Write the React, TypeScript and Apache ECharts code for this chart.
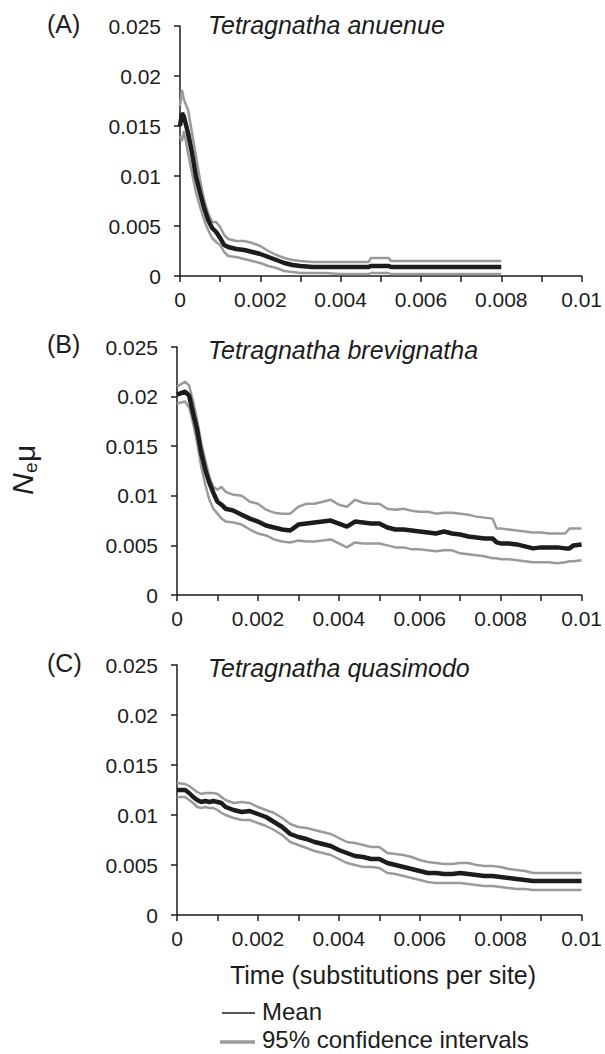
import React, { useEffect, useRef } from 'react';
import * as echarts from 'echarts';

const xTickLabels = ['0', '', '0.002', '', '0.004', '', '0.006', '', '0.008', '', '0.01'];
const yTickLabels = ['0', '0.005', '0.01', '0.015', '0.02', '0.025'];
const panelLetters = ['(A)', '(B)', '(C)'];
const speciesNames = ['Tetragnatha anuenue', 'Tetragnatha brevignatha', 'Tetragnatha quasimodo'];
const xAxisTitle = 'Time (substitutions per site)';
const legendLabels = ['Mean', '95% confidence intervals'];

// Panel A: [time, value]
const meanA = [[0, 0.015], [0.00005, 0.0163], [0.0001, 0.0159], [0.0002, 0.0143], [0.0003, 0.0123], [0.0004, 0.0099], [0.0005, 0.0083], [0.0006, 0.0068], [0.0007, 0.0056], [0.0008, 0.0048], [0.0009, 0.0044], [0.001, 0.0038], [0.0011, 0.0031], [0.0012, 0.0029], [0.0014, 0.0027], [0.0016, 0.0026], [0.0018, 0.0024], [0.002, 0.0022], [0.0022, 0.0019], [0.0024, 0.0016], [0.0026, 0.0013], [0.0028, 0.0011], [0.003, 0.001], [0.0033, 0.0009], [0.0036, 0.0009], [0.004, 0.0009], [0.0047, 0.0009], [0.00475, 0.001], [0.0052, 0.001], [0.00525, 0.0009], [0.008, 0.0009]];
const upperA = [[0, 0.017], [0.00005, 0.0186], [0.0001, 0.0176], [0.0002, 0.0166], [0.0003, 0.0143], [0.0004, 0.0119], [0.0005, 0.0096], [0.0006, 0.0076], [0.0007, 0.0063], [0.0008, 0.0054], [0.0009, 0.0054], [0.001, 0.0049], [0.0011, 0.0041], [0.0012, 0.0037], [0.0014, 0.0035], [0.0016, 0.0035], [0.0018, 0.0033], [0.002, 0.003], [0.0022, 0.0025], [0.0024, 0.0021], [0.0026, 0.0018], [0.0028, 0.0016], [0.003, 0.0015], [0.0033, 0.0014], [0.0036, 0.0014], [0.004, 0.0014], [0.0047, 0.0014], [0.00475, 0.0018], [0.0052, 0.0018], [0.00525, 0.0015], [0.008, 0.0015]];
const lowerA = [[0, 0.014], [0.00005, 0.0135], [0.0001, 0.0145], [0.0002, 0.0123], [0.0003, 0.0103], [0.0004, 0.0083], [0.0005, 0.0069], [0.0006, 0.0056], [0.0007, 0.0046], [0.0008, 0.0038], [0.0009, 0.0034], [0.001, 0.0031], [0.0011, 0.0024], [0.0012, 0.002], [0.0014, 0.0019], [0.0016, 0.0017], [0.0018, 0.0015], [0.002, 0.0013], [0.0022, 0.001], [0.0024, 0.0008], [0.0026, 0.0005], [0.0028, 0.0004], [0.003, 0.0003], [0.0033, 0.0003], [0.0036, 0.0003], [0.004, 0.0002], [0.0047, 0.0002], [0.00475, 0.0003], [0.0052, 0.0003], [0.00525, 0.0002], [0.008, 0.0002]];

// Panel B
const meanB = [[0, 0.0202], [0.0002, 0.0205], [0.0003, 0.0201], [0.0004, 0.0183], [0.0005, 0.0166], [0.0006, 0.0143], [0.0007, 0.0126], [0.0008, 0.0113], [0.0009, 0.0103], [0.001, 0.0094], [0.0011, 0.0091], [0.0012, 0.0087], [0.0014, 0.0085], [0.0016, 0.0081], [0.0018, 0.0077], [0.002, 0.0074], [0.0022, 0.007], [0.0024, 0.0068], [0.0026, 0.0066], [0.0028, 0.0065], [0.003, 0.0071], [0.0032, 0.0072], [0.0034, 0.0073], [0.0036, 0.0074], [0.0038, 0.0075], [0.004, 0.0072], [0.0042, 0.0069], [0.0044, 0.0074], [0.0046, 0.0073], [0.0048, 0.0072], [0.005, 0.0072], [0.0052, 0.0068], [0.0054, 0.0066], [0.0056, 0.0066], [0.0058, 0.0065], [0.006, 0.0064], [0.0062, 0.0063], [0.0064, 0.0062], [0.0066, 0.0064], [0.0068, 0.0062], [0.007, 0.0061], [0.0072, 0.0059], [0.0074, 0.0058], [0.0076, 0.0057], [0.0078, 0.0057], [0.0079, 0.0053], [0.008, 0.0052], [0.0082, 0.0052], [0.0084, 0.0051], [0.0086, 0.0049], [0.0088, 0.0047], [0.009, 0.0048], [0.0092, 0.0048], [0.0094, 0.0048], [0.0096, 0.0047], [0.0097, 0.0047], [0.0098, 0.005], [0.01, 0.0051]];
const upperB = [[0, 0.021], [0.0002, 0.0215], [0.0003, 0.0211], [0.0004, 0.0195], [0.0005, 0.0176], [0.0006, 0.0153], [0.0007, 0.0136], [0.0008, 0.0119], [0.0009, 0.0109], [0.001, 0.0106], [0.0011, 0.0109], [0.0012, 0.0104], [0.0014, 0.0101], [0.0016, 0.01], [0.0018, 0.0094], [0.002, 0.0092], [0.0022, 0.0086], [0.0024, 0.0083], [0.0026, 0.0082], [0.0028, 0.0082], [0.003, 0.0089], [0.0032, 0.0092], [0.0034, 0.0092], [0.0036, 0.0094], [0.0038, 0.0096], [0.004, 0.0091], [0.0042, 0.0089], [0.0044, 0.0096], [0.0046, 0.0093], [0.0048, 0.0092], [0.005, 0.0092], [0.0052, 0.0087], [0.0054, 0.0086], [0.0056, 0.0087], [0.0058, 0.0085], [0.006, 0.0084], [0.0062, 0.0084], [0.0064, 0.0082], [0.0066, 0.0083], [0.0068, 0.0083], [0.007, 0.0082], [0.0072, 0.0081], [0.0074, 0.0079], [0.0076, 0.0078], [0.0078, 0.0077], [0.0079, 0.0067], [0.008, 0.0067], [0.0082, 0.0066], [0.0084, 0.0065], [0.0086, 0.0064], [0.0088, 0.0063], [0.009, 0.0063], [0.0092, 0.0062], [0.0094, 0.0062], [0.0096, 0.0062], [0.0097, 0.0067], [0.0098, 0.0067], [0.01, 0.0067]];
const lowerB = [[0, 0.0193], [0.0002, 0.0195], [0.0003, 0.0189], [0.0004, 0.0173], [0.0005, 0.0153], [0.0006, 0.0129], [0.0007, 0.0111], [0.0008, 0.0096], [0.0009, 0.0087], [0.001, 0.0082], [0.0011, 0.0077], [0.0012, 0.0074], [0.0014, 0.0073], [0.0016, 0.0071], [0.0018, 0.0066], [0.002, 0.0062], [0.0022, 0.006], [0.0024, 0.0056], [0.0026, 0.0054], [0.0028, 0.0053], [0.003, 0.0055], [0.0032, 0.0054], [0.0034, 0.0054], [0.0036, 0.0055], [0.0038, 0.0056], [0.004, 0.0052], [0.0042, 0.0048], [0.0044, 0.0053], [0.0046, 0.0052], [0.0048, 0.0052], [0.005, 0.0052], [0.0052, 0.005], [0.0054, 0.0048], [0.0056, 0.0048], [0.0058, 0.0046], [0.006, 0.0046], [0.0062, 0.0045], [0.0064, 0.0044], [0.0066, 0.0045], [0.0068, 0.0045], [0.007, 0.0042], [0.0072, 0.0041], [0.0074, 0.004], [0.0076, 0.0039], [0.0078, 0.0037], [0.0079, 0.0037], [0.008, 0.0036], [0.0082, 0.0036], [0.0084, 0.0035], [0.0086, 0.0034], [0.0088, 0.0033], [0.009, 0.0033], [0.0092, 0.0033], [0.0094, 0.0032], [0.0096, 0.0033], [0.0097, 0.0034], [0.0098, 0.0034], [0.01, 0.0035]];

// Panel C
const meanC = [[0, 0.0125], [0.0002, 0.0125], [0.0003, 0.0122], [0.0004, 0.0118], [0.0005, 0.0115], [0.0006, 0.0113], [0.0007, 0.0114], [0.0008, 0.0113], [0.0009, 0.0114], [0.001, 0.0113], [0.0011, 0.0112], [0.0012, 0.0108], [0.0014, 0.0105], [0.0016, 0.0103], [0.0018, 0.0104], [0.002, 0.0101], [0.0022, 0.0098], [0.0024, 0.0093], [0.0026, 0.0088], [0.0028, 0.0081], [0.003, 0.0078], [0.0032, 0.0076], [0.0034, 0.0073], [0.0036, 0.0071], [0.0038, 0.0069], [0.004, 0.0065], [0.0042, 0.0062], [0.0044, 0.0059], [0.0046, 0.0058], [0.0048, 0.0056], [0.005, 0.0056], [0.0052, 0.0052], [0.0054, 0.005], [0.0056, 0.0048], [0.0058, 0.0046], [0.006, 0.0044], [0.0062, 0.0042], [0.0064, 0.0042], [0.0066, 0.0041], [0.0068, 0.0041], [0.007, 0.0042], [0.0072, 0.0041], [0.0074, 0.004], [0.0076, 0.0039], [0.0078, 0.0039], [0.008, 0.0038], [0.0082, 0.0037], [0.0084, 0.0036], [0.0086, 0.0035], [0.0088, 0.0034], [0.009, 0.0034], [0.0092, 0.0034], [0.0094, 0.0034], [0.0096, 0.0034], [0.0098, 0.0034], [0.01, 0.0034]];
const upperC = [[0, 0.0132], [0.0002, 0.0131], [0.0003, 0.0129], [0.0004, 0.0126], [0.0005, 0.0123], [0.0006, 0.0121], [0.0007, 0.0122], [0.0008, 0.0122], [0.0009, 0.0122], [0.001, 0.0121], [0.0011, 0.0118], [0.0012, 0.0115], [0.0014, 0.0112], [0.0016, 0.0113], [0.0018, 0.0112], [0.002, 0.0108], [0.0022, 0.0105], [0.0024, 0.0102], [0.0026, 0.0097], [0.0028, 0.0091], [0.003, 0.0088], [0.0032, 0.0087], [0.0034, 0.0085], [0.0036, 0.0083], [0.0038, 0.0081], [0.004, 0.0077], [0.0042, 0.0073], [0.0044, 0.0072], [0.0046, 0.007], [0.0048, 0.0068], [0.005, 0.0068], [0.0052, 0.0062], [0.0054, 0.0061], [0.0056, 0.006], [0.0058, 0.0058], [0.006, 0.0055], [0.0062, 0.0053], [0.0064, 0.0052], [0.0066, 0.0051], [0.0068, 0.0051], [0.007, 0.0052], [0.0072, 0.0052], [0.0074, 0.005], [0.0076, 0.0049], [0.0078, 0.0049], [0.008, 0.0048], [0.0082, 0.0046], [0.0084, 0.0045], [0.0086, 0.0044], [0.0088, 0.0042], [0.009, 0.0042], [0.0092, 0.0042], [0.0094, 0.0042], [0.0096, 0.0042], [0.0098, 0.0042], [0.01, 0.0042]];
const lowerC = [[0, 0.0118], [0.0002, 0.0118], [0.0003, 0.0115], [0.0004, 0.0112], [0.0005, 0.0108], [0.0006, 0.0107], [0.0007, 0.0108], [0.0008, 0.0107], [0.0009, 0.0107], [0.001, 0.0105], [0.0011, 0.0102], [0.0012, 0.01], [0.0014, 0.0097], [0.0016, 0.0095], [0.0018, 0.0095], [0.002, 0.0092], [0.0022, 0.0089], [0.0024, 0.0085], [0.0026, 0.008], [0.0028, 0.0073], [0.003, 0.007], [0.0032, 0.0067], [0.0034, 0.0064], [0.0036, 0.0062], [0.0038, 0.006], [0.004, 0.0056], [0.0042, 0.0052], [0.0044, 0.005], [0.0046, 0.0048], [0.0048, 0.0048], [0.005, 0.0047], [0.0052, 0.0042], [0.0054, 0.0041], [0.0056, 0.0039], [0.0058, 0.0037], [0.006, 0.0035], [0.0062, 0.0033], [0.0064, 0.0032], [0.0066, 0.0032], [0.0068, 0.0032], [0.007, 0.0032], [0.0072, 0.0031], [0.0074, 0.003], [0.0076, 0.0029], [0.0078, 0.0029], [0.008, 0.0028], [0.0082, 0.0027], [0.0084, 0.0026], [0.0086, 0.0026], [0.0088, 0.0025], [0.009, 0.0025], [0.0092, 0.0025], [0.0094, 0.0025], [0.0096, 0.0025], [0.0098, 0.0025], [0.01, 0.0025]];

const panels = [
  { mean: meanA, upper: upperA, lower: lowerA },
  { mean: meanB, upper: upperB, lower: lowerB },
  { mean: meanC, upper: upperC, lower: lowerC },
];

const FONT = '"Liberation Sans", Arial, Helvetica, sans-serif';
const INK = '#1c1c1c';
const GRAY = '#9a9a9a';

const gridBoxes = [
  { left: 180, top: 26, width: 407, height: 250 },
  { left: 177, top: 347, width: 405, height: 248 },
  { left: 177, top: 665, width: 405, height: 250 },
];
const letterY = [24, 344, 663];
const titleY = [25, 350, 668];

export default function App() {
  const ref = useRef<HTMLDivElement>(null);
  useEffect(() => {
    const chart = echarts.init(ref.current!, null, { renderer: 'svg' });
    const axisLine = { show: true, lineStyle: { color: INK, width: 1.5 } };
    const axisTick = { show: true, inside: false, length: 6, lineStyle: { color: INK, width: 1.5 } };
    const option: any = {
      animation: false,
      backgroundColor: '#ffffff',
      grid: gridBoxes.map((g) => ({ ...g, containLabel: false })),
      xAxis: gridBoxes.map((_, i) => ({
        type: 'value',
        gridIndex: i,
        min: 0,
        max: 0.01,
        interval: 0.001,
        axisLine,
        axisTick,
        splitLine: { show: false },
        axisLabel: {
          show: true,
          margin: 13,
          color: INK,
          fontSize: 21,
          fontFamily: FONT,
          showMinLabel: true,
          showMaxLabel: true,
          formatter: (v: number) => xTickLabels[Math.round(v / 0.001)] ?? '',
        },
      })),
      yAxis: gridBoxes.map((_, i) => ({
        type: 'value',
        gridIndex: i,
        min: 0,
        max: 0.025,
        interval: 0.005,
        axisLine,
        axisTick,
        splitLine: { show: false },
        axisLabel: {
          show: true,
          margin: 19,
          color: INK,
          fontSize: 21,
          fontFamily: FONT,
          formatter: (v: number) => yTickLabels[Math.round(v / 0.005)] ?? '',
        },
      })),
      series: panels.flatMap((p, i) => [
        { type: 'line', xAxisIndex: i, yAxisIndex: i, data: p.lower, symbol: 'none', z: 2, lineStyle: { color: GRAY, width: 2.5 } },
        { type: 'line', xAxisIndex: i, yAxisIndex: i, data: p.upper, symbol: 'none', z: 2, lineStyle: { color: GRAY, width: 2.5 } },
        { type: 'line', xAxisIndex: i, yAxisIndex: i, data: p.mean, symbol: 'none', z: 3, lineStyle: { color: INK, width: 4.5 } },
      ]),
      graphic: [
        ...panelLetters.map((t, i) => ({
          type: 'text', x: 47, y: letterY[i],
          style: { text: t, fontSize: 25, fontFamily: FONT, fill: INK, align: 'left', verticalAlign: 'middle' },
        })),
        ...speciesNames.map((t, i) => ({
          type: 'text', x: 208, y: titleY[i],
          style: { text: t, fontSize: 25, fontStyle: 'italic', fontFamily: FONT, fill: INK, align: 'left', verticalAlign: 'middle' },
        })),
        {
          type: 'group', x: 22, y: 469, rotation: Math.PI / 2,
          children: [
            { type: 'text', x: -26, y: 0, style: { text: 'N', fontSize: 30, fontStyle: 'italic', fontFamily: FONT, fill: INK, align: 'left', verticalAlign: 'middle' } },
            { type: 'text', x: -4, y: 8, style: { text: 'e', fontSize: 19, fontFamily: FONT, fill: INK, align: 'left', verticalAlign: 'middle' } },
            { type: 'text', x: 7, y: 2, style: { text: 'μ', fontSize: 30, fontFamily: FONT, fill: INK, align: 'left', verticalAlign: 'middle' } },
          ],
        },
        {
          type: 'text', x: 383, y: 975,
          style: { text: xAxisTitle, fontSize: 25, fontFamily: FONT, fill: INK, align: 'center', verticalAlign: 'middle' },
        },
        { type: 'line', shape: { x1: 222, y1: 1013, x2: 255, y2: 1013 }, style: { stroke: INK, lineWidth: 1.5 } },
        { type: 'text', x: 262, y: 1011, style: { text: legendLabels[0], fontSize: 24, fontFamily: FONT, fill: INK, align: 'left', verticalAlign: 'middle' } },
        { type: 'line', shape: { x1: 220, y1: 1042, x2: 255, y2: 1042 }, style: { stroke: GRAY, lineWidth: 3.5 } },
        { type: 'text', x: 262, y: 1039, style: { text: legendLabels[1], fontSize: 24, fontFamily: FONT, fill: INK, align: 'left', verticalAlign: 'middle' } },
      ],
    };
    chart.setOption(option);
    return () => chart.dispose();
  }, []);
  return (
    <div
      ref={ref}
      style={{ position: 'absolute', left: 0, top: 0, width: 605, height: 1054, background: '#fff' }}
    />
  );
}
